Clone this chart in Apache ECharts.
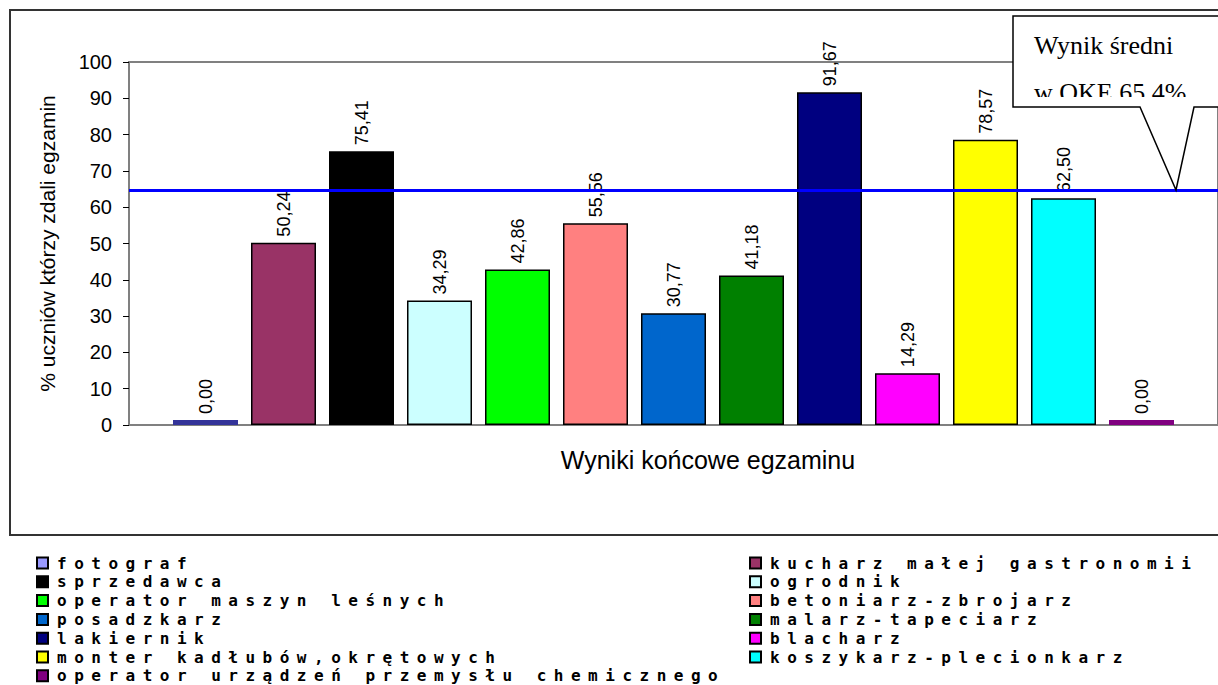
<!DOCTYPE html>
<html>
<head>
<meta charset="utf-8">
<script src="https://cdn.jsdelivr.net/npm/echarts@6/dist/echarts.min.js"></script>
<style>
html, body { margin: 0; padding: 0; background: #fff; }
#chart { width: 1218px; height: 685px; }
/* the legend font in the original is a wide, spaced-out bitmap font */
#chart text[style*="DejaVu Sans Mono"] { letter-spacing: 7.5px; }
</style>
</head>
<body>
<div id="chart"></div>
<script>
// zawody (każdy zawód to osobna seria, jak w oryginale)
const professions = [
  'fotograf',
  'kucharz małej gastronomii',
  'sprzedawca',
  'ogrodnik',
  'operator maszyn leśnych',
  'betoniarz-zbrojarz',
  'posadzkarz',
  'malarz-tapeciarz',
  'lakiernik',
  'blacharz',
  'monter kadłubów,okrętowych',
  'koszykarz-plecionkarz',
  'operator urządzeń przemysłu chemicznego'
];
// % uczniów którzy zdali egzamin
const passRates = [0.00, 50.24, 75.41, 34.29, 42.86, 55.56, 30.77, 41.18, 91.67, 14.29, 78.57, 62.50, 0.00];
const barColors = [
  '#9999FF', '#993366', '#000000', '#CCFFFF', '#00FF00', '#FF8080', '#0066CC',
  '#008000', '#000080', '#FF00FF', '#FFFF00', '#00FFFF', '#800080'
];
// kolor "kreski" rysowanej dla wyniku 0
const zeroColors = ['#333399', null, null, null, null, null, null, null, null, null, null, null, '#800080'];
const categories = ['Wyniki końcowe egzaminu'];
const yMin = 0, yMax = 100, yStep = 10;
const avgLine = 64.7; // linia średniej OKE

const sans = '"Liberation Sans", Arial, sans-serif';
const chart = echarts.init(document.getElementById('chart'), null, { renderer: 'svg' });

const series = professions.map((name, i) => {
  const v = passRates[i];
  const item = v === 0
    ? { value: v, itemStyle: { color: zeroColors[i], borderWidth: 0 } }
    : v;
  const s = {
    name: name,
    type: 'bar',
    barWidth: 65,
    barGap: '20%',
    barMinHeight: 5,
    itemStyle: { color: barColors[i], borderColor: '#000', borderWidth: 1.5 },
    label: {
      show: true,
      position: 'top',
      rotate: 90,
      align: 'left',
      verticalAlign: 'middle',
      distance: 6,
      color: '#000',
      fontSize: 18,
      fontFamily: sans,
      formatter: p => Number(p.value).toFixed(2).replace('.', ',')
    },
    data: [item]
  };
  if (i === 0) {
    s.markLine = {
      silent: true,
      symbol: 'none',
      z: 10,
      label: { show: false },
      lineStyle: { color: '#0000FF', width: 3, type: 'solid' },
      data: [{ yAxis: avgLine }]
    };
  }
  return s;
});

const legendLeft = professions.filter((p, i) => i % 2 === 0);
const legendRight = professions.filter((p, i) => i % 2 === 1);
const legendBase = {
  orient: 'vertical',
  top: 555,
  height: 135,
  padding: 0,
  itemWidth: 11,
  itemHeight: 11,
  itemGap: 2.8,
  icon: 'rect',
  selectedMode: false,
  textStyle: {
    fontFamily: '"DejaVu Sans Mono", monospace',
    fontSize: 16,
    fontWeight: 'bold',
    lineHeight: 16,
    color: '#000',
    padding: [0, 0, 0, 4]
  }
};

const option = {
  animation: false,
  backgroundColor: '#fff',
  title: {
    text: 'Wyniki końcowe egzaminu',
    left: 703,
    top: 442,
    textAlign: 'center',
    textStyle: { fontFamily: sans, fontSize: 25, fontWeight: 'normal', color: '#000' }
  },
  legend: [
    Object.assign({}, legendBase, { left: 36, data: legendLeft }),
    Object.assign({}, legendBase, { left: 749, data: legendRight })
  ],
  grid: {
    left: 129,
    right: 0,
    top: 62,
    bottom: 260,
    show: true,
    borderColor: '#808080',
    borderWidth: 2,
    backgroundColor: '#fff'
  },
  xAxis: {
    type: 'category',
    data: categories,
    axisLine: { lineStyle: { color: '#808080', width: 2 } },
    axisTick: { show: false },
    axisLabel: { show: false }
  },
  yAxis: {
    type: 'value',
    min: yMin,
    max: yMax,
    interval: yStep,
    name: '% uczniów którzy zdali egzamin',
    nameLocation: 'middle',
    nameGap: 71,
    nameTextStyle: { fontFamily: sans, fontSize: 21, color: '#000' },
    axisLine: { show: true, lineStyle: { color: '#808080', width: 2 } },
    axisTick: { show: true, length: 6, lineStyle: { color: '#000' } },
    axisLabel: { fontFamily: sans, fontSize: 20, color: '#000', margin: 17 },
    splitLine: { show: false }
  },
  series: series,
  graphic: [
    {
      type: 'rect',
      z: 0,
      shape: { x: 10, y: 10, width: 1240, height: 525 },
      style: { fill: 'none', stroke: '#333', lineWidth: 2 }
    },
    {
      type: 'polygon',
      z: 100,
      shape: {
        points: [[1013, 16], [1240, 16], [1240, 107], [1194, 107], [1176, 190], [1140, 107], [1013, 107]]
      },
      style: { fill: '#fff', stroke: '#000', lineWidth: 1.5 }
    },
    {
      type: 'text',
      z: 101,
      x: 1034,
      y: 45,
      style: { text: 'Wynik średni', font: '26px "Liberation Serif", serif', fill: '#000', verticalAlign: 'middle' }
    },
    {
      type: 'text',
      z: 101,
      x: 1034,
      y: 92,
      style: { text: 'w OKE 65.4%', font: '26px "Liberation Serif", serif', fill: '#000', verticalAlign: 'middle' }
    },
    {
      // tekst w dymku jest ucięty od dołu
      type: 'rect',
      z: 102,
      shape: { x: 1014, y: 97, width: 230, height: 9 },
      style: { fill: '#fff' }
    }
  ]
};

chart.setOption(option);
</script>
</body>
</html>
